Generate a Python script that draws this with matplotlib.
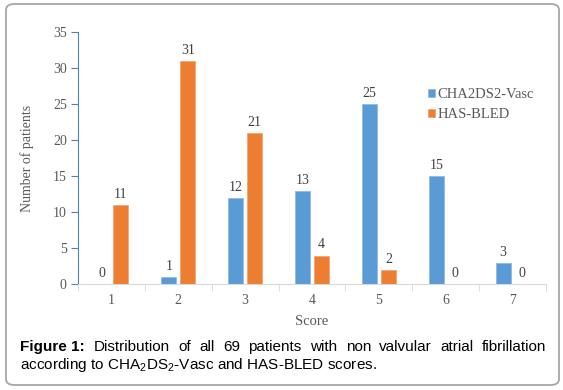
import matplotlib.pyplot as plt
import numpy as np
from matplotlib.patches import FancyBboxPatch

plt.rcParams["mathtext.fontset"] = "custom"
plt.rcParams["mathtext.rm"] = "Liberation Sans"

scores = ["1", "2", "3", "4", "5", "6", "7"]
cha2ds2_vasc = [0, 1, 12, 13, 25, 15, 3]
has_bled = [11, 31, 21, 4, 2, 0, 0]
y_ticks = [0, 5, 10, 15, 20, 25, 30, 35]

BLUE = "#5b9bd5"
ORANGE = "#ed7d31"
TEXT = "#595959"
SERIF = "Liberation Serif"

fig = plt.figure(figsize=(5.63, 3.90), dpi=100)
ax = fig.add_axes([0.1385, 0.271, 0.8315, 0.646])

x = np.arange(len(scores))
w = 0.225
off = 0.142
b1 = ax.bar(x - off, cha2ds2_vasc, w, color=BLUE, edgecolor="#8dbbe6",
            linewidth=0.6, label="CHA2DS2-Vasc")
b2 = ax.bar(x + off, has_bled, w, color=ORANGE, edgecolor="#f4a470",
            linewidth=0.6, label="HAS-BLED")
for bars in (b1, b2):
    ax.bar_label(bars, padding=3, fontsize=10, family=SERIF, color="#404040")

ax.set_xlim(-0.5, len(scores) - 0.5)
ax.set_ylim(0, 35)
ax.set_yticks(y_ticks)
ax.set_xticks(x)
ax.set_xticklabels(scores)
ax.set_xticks(np.arange(len(scores) + 1) - 0.5, minor=True)
ax.tick_params(axis="x", which="major", length=0, pad=7)
ax.tick_params(axis="x", which="minor", length=5, color="#d9d9d9")
ax.tick_params(axis="y", length=5, color="#4f81bd", pad=3)
for lab in ax.get_xticklabels() + ax.get_yticklabels():
    lab.set_fontfamily(SERIF)
    lab.set_fontsize(10)
    lab.set_color(TEXT)

for s in ("top", "right"):
    ax.spines[s].set_visible(False)
ax.spines["left"].set_color("#4f81bd")
ax.spines["bottom"].set_color("#d9d9d9")

ax.set_xlabel("Score", family=SERIF, fontsize=10.5, color=TEXT, labelpad=6)
ax.set_ylabel("Number of patients", family=SERIF, fontsize=10, color=TEXT,
              labelpad=14)

leg = ax.legend(loc="upper left", bbox_to_anchor=(0.72, 0.83), frameon=False,
                prop={"family": SERIF, "size": 10.5}, handlelength=0.45,
                handleheight=0.45, handletextpad=0.2, labelspacing=0.45)
for t in leg.get_texts():
    t.set_color(TEXT)

# frame round the figure
frame = FancyBboxPatch((6 / 563, 5 / 390), 553 / 563, 381 / 390,
                       boxstyle="round,pad=0,rounding_size=0.015",
                       transform=fig.transFigure, facecolor="none",
                       edgecolor="#a6a6a6", linewidth=1.3)
fig.patches.append(frame)

# caption, first line justified
line1 = [("Figure 1:", "bold")] + [(w_, "normal") for w_ in
         "Distribution of all 69 patients with non valvular atrial fibrillation".split()]
renderer = fig.canvas.get_renderer()
texts = []
for word, weight in line1:
    t = fig.text(0, 1 - 347 / 390, word, family="Liberation Sans", fontsize=11,
                 fontweight=weight, va="center", color="black")
    texts.append(t)
widths = [t.get_window_extent(renderer).width for t in texts]
x0, x1 = 20.5, 546.5
gap = (x1 - x0 - sum(widths)) / (len(texts) - 1)
pos = x0
for t, wd in zip(texts, widths):
    t.set_x(pos / 563)
    pos += wd + gap

fig.text(20.5 / 563, 1 - 365.5 / 390,
         r"according to CHA$_\mathregular{2}$DS$_\mathregular{2}$-Vasc and HAS-BLED scores.",
         family="Liberation Sans", fontsize=11, va="center", color="black")

fig.savefig("out.png", dpi=100)
